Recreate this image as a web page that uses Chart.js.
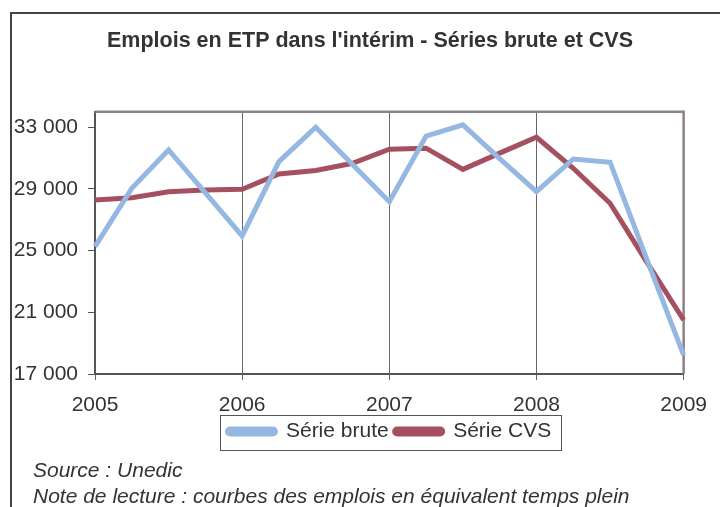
<!DOCTYPE html>
<html>
<head>
<meta charset="utf-8">
<script src="https://cdn.jsdelivr.net/npm/chart.js@4"></script>
<style>
  body { margin: 0; background: #fff; }
  #wrap { position: relative; width: 720px; height: 507px; overflow: hidden; }
  #frame { position: absolute; left: 10px; top: 12px; width: 760px; height: 560px;
           border-left: 2px solid #444; border-top: 2px solid #444; }
  canvas { position: absolute; left: 0; top: 0; }
  .note { position: absolute; left: 33px; font: italic 21px 'Liberation Sans', Arial, sans-serif;
          color: #333; line-height: 26px; white-space: nowrap; }
</style>
</head>
<body>
<div id="wrap">
  <div id="frame"></div>
  <canvas id="chart" width="720" height="507"></canvas>
  <div class="note" style="top:457px">Source : Unedic<br>Note de lecture : courbes des emplois en équivalent temps plein</div>
</div>
<script>
// quarters 2005T1 .. 2009T1
const quarters = ['2005T1', '2005T2', '2005T3', '2005T4', '2006T1', '2006T2', '2006T3', '2006T4',
    '2007T1', '2007T2', '2007T3', '2007T4', '2008T1', '2008T2', '2008T3', '2008T4', '2009T1'];
const yearLabels = ['2005', '', '', '', '2006', '', '', '', '2007', '', '', '', '2008', '', '', '', '2009'];

const serieBrute = [25260, 29040, 31530, 28740, 25950, 30770, 33000, 30590, 28170,
    32430, 33150, 30960, 28820, 30940, 30730, 24430, 18230];
const serieCVS = [28280, 28430, 28820, 28930, 28980, 29970, 30190, 30660, 31570,
    31640, 30270, 31320, 32350, 30340, 28070, 24250, 20500];

const yTicks = [17000, 21000, 25000, 29000, 33000];

Chart.defaults.font.family = "'Liberation Sans', Arial, sans-serif";
Chart.defaults.color = '#333';

function formatNumber(v) {
    return String(v).replace(/\B(?=(\d{3})+(?!\d))/g, ' ');
}

// plot frame (top and right), box around legend, title centred on the outer frame
const framePlugin = {
    id: 'framePlugin',
    afterLayout(chart) {
        const t = chart.titleBlock;
        if (t) { t.left = 56; t.right = 684; }
    },
    beforeDatasetsDraw(chart) {
        const {ctx, chartArea: a} = chart;
        ctx.save();
        ctx.strokeStyle = '#8c8282';
        ctx.lineWidth = 2.5;
        ctx.beginPath();
        ctx.moveTo(a.left, a.top);
        ctx.lineTo(a.right, a.top);
        ctx.lineTo(a.right, a.bottom);
        ctx.stroke();
        ctx.restore();
    },
    afterDraw(chart) {
        const lg = chart.legend;
        if (!lg || !lg.legendHitBoxes.length) return;
        const boxes = lg.legendHitBoxes;
        const left = Math.min(...boxes.map(b => b.left)) - 7;
        const right = Math.max(...boxes.map(b => b.left + b.width)) + 10;
        const top = boxes[0].top - 6;
        const bottom = boxes[0].top + boxes[0].height + 8;
        const ctx = chart.ctx;
        ctx.save();
        ctx.strokeStyle = '#555';
        ctx.lineWidth = 1;
        ctx.strokeRect(Math.round(left) + 0.5, Math.round(top) + 0.5, Math.round(right - left), Math.round(bottom - top));
        ctx.restore();
    }
};

new Chart(document.getElementById('chart'), {
    type: 'line',
    data: {
        labels: quarters,
        datasets: [
            {
                label: 'Série brute',
                data: serieBrute,
                borderColor: '#95b8e2',
                backgroundColor: '#95b8e2',
                borderWidth: 5,
                pointRadius: 0,
                tension: 0
            },
            {
                label: 'Série CVS',
                data: serieCVS,
                borderColor: '#a5505f',
                backgroundColor: '#a5505f',
                borderWidth: 5,
                pointRadius: 0,
                tension: 0
            }
        ]
    },
    options: {
        responsive: false,
        animation: false,
        layout: {
            padding: {left: 0, right: 36, top: 0, bottom: 55}
        },
        scales: {
            x: {
                offset: false,
                afterFit(scale) { scale.height = 41; },
                grid: {
                    color: c => (c.index % 4 === 0 ? '#666' : 'rgba(0,0,0,0)'),
                    lineWidth: 1,
                    tickLength: 6
                },
                border: {color: '#555', width: 2},
                ticks: {
                    autoSkip: false,
                    maxRotation: 0,
                    padding: 13,
                    font: {size: 21},
                    color: '#333',
                    callback: (v, i) => yearLabels[i]
                }
            },
            y: {
                min: 17000,
                max: 34000,
                afterFit(scale) { scale.width = 95; },
                afterBuildTicks(scale) {
                    scale.ticks = yTicks.map(v => ({value: v}));
                },
                grid: {
                    drawOnChartArea: false,
                    color: '#555',
                    tickLength: 7
                },
                border: {color: '#555', width: 2},
                ticks: {
                    padding: 10,
                    font: {size: 21},
                    color: '#333',
                    callback: v => formatNumber(v)
                }
            }
        },
        plugins: {
            title: {
                display: true,
                text: "Emplois en ETP dans l'intérim - Séries brute et CVS",
                font: {size: 21.5, weight: 'bold'},
                color: '#333',
                padding: {top: 28, bottom: 58}
            },
            legend: {
                position: 'bottom',
                fullSize: false,
                labels: {
                    boxWidth: 48,
                    boxHeight: 5,
                    padding: 6,
                    font: {size: 21},
                    color: '#333',
                    useBorderRadius: true,
                    borderRadius: 2.5
                }
            },
            tooltip: {enabled: false}
        }
    },
    plugins: [framePlugin]
});
</script>
</body>
</html>
